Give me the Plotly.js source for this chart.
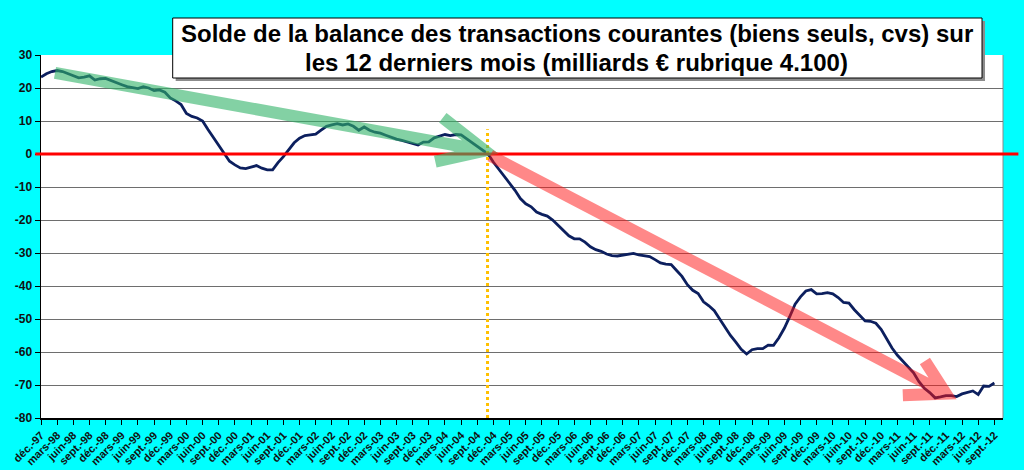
<!DOCTYPE html>
<html>
<head>
<meta charset="utf-8">
<script src="https://cdn.plot.ly/plotly-3.0.1.min.js"></script>
<style>
  body { margin: 0; background: #00ffff; }
  #chart { width: 1024px; height: 470px; }
</style>
</head>
<body>
<div id="chart"></div>
<script>
// solde glissant sur 12 mois, mensuel, de déc.-97 à sept.-12 (milliards €)
var soldeValues = [
  23.3, 24.3, 25.0, 25.3, 25.0, 24.4, 23.8, 23.1, 23.3, 23.7,
  22.4, 22.8, 22.9, 22.2, 21.7, 21.0, 20.4, 20.0, 19.8, 20.4,
  20.0, 19.2, 19.4, 18.7, 17.0, 16.1, 15.0, 12.3, 11.4, 10.9,
  10.0, 7.4, 5.0, 3.0, 0.2, -2.2, -3.3, -4.2, -4.4, -3.9,
  -3.5, -4.3, -4.8, -4.8, -2.6, -0.8, 1.2, 3.4, 4.8, 5.6,
  5.8, 6.0, 7.2, 8.4, 8.8, 9.2, 8.8, 9.1, 8.4, 7.2,
  8.2, 7.2, 6.6, 6.3, 5.7, 5.0, 4.5, 4.1, 3.6, 3.2,
  2.7, 3.6, 3.7, 4.9, 5.4, 5.9, 5.6, 5.9, 5.8, 4.6,
  3.4, 2.2, 1.0, 0.0, -2.5, -4.6, -6.8, -8.6, -11.0, -13.5,
  -15.1, -16.0, -17.6, -18.3, -18.8, -20.0, -21.6, -23.4, -24.8, -25.7,
  -25.7, -26.7, -28.1, -29.0, -29.5, -30.3, -30.8, -30.9, -30.6, -30.5,
  -30.1, -30.6, -30.8, -31.1, -32.0, -33.0, -33.4, -33.5, -35.3, -37.1,
  -39.6, -41.3, -42.3, -44.8, -46.0, -47.5, -50.0, -52.5, -55.0, -57.0,
  -59.2, -60.6, -59.3, -59.0, -59.0, -57.9, -58.0, -55.7, -52.8, -49.3,
  -45.5, -43.3, -41.5, -41.1, -42.4, -42.3, -42.0, -42.4, -43.5, -45.0,
  -45.2, -47.2, -48.8, -50.6, -50.7, -51.3, -53.2, -55.9, -58.8, -61.0,
  -62.8, -64.4, -66.3, -69.0, -71.0, -72.3, -73.9, -73.6, -73.2, -73.2,
  -73.5, -72.7, -72.3, -71.8, -72.9, -70.3, -70.4, -69.4
];

var tickLabels = [
  'déc.-97', 'mars-98', 'juin-98', 'sept.-98', 'déc.-98', 'mars-99', 'juin-99', 'sept.-99',
  'déc.-99', 'mars-00', 'juin-00', 'sept.-00', 'déc.-00', 'mars-01', 'juin-01', 'sept.-01',
  'déc.-01', 'mars-02', 'juin-02', 'sept.-02', 'déc.-02', 'mars-03', 'juin-03', 'sept.-03',
  'déc.-03', 'mars-04', 'juin-04', 'sept.-04', 'déc.-04', 'mars-05', 'juin-05', 'sept.-05',
  'déc.-05', 'mars-06', 'juin-06', 'sept.-06', 'déc.-06', 'mars-07', 'juin-07', 'sept.-07',
  'déc.-07', 'mars-08', 'juin-08', 'sept.-08', 'déc.-08', 'mars-09', 'juin-09', 'sept.-09',
  'déc.-09', 'mars-10', 'juin-10', 'sept.-10', 'déc.-10', 'mars-11', 'juin-11', 'sept.-11',
  'déc.-11', 'mars-12', 'juin-12', 'sept.-12'
];

var yTickValues = [30, 20, 10, 0, -10, -20, -30, -40, -50, -60, -70, -80];
var yTickLabels = ['30', '20', '10', '0', '-10', '-20', '-30', '-40', '-50', '-60', '-70', '-80'];

var titleLines = [
  'Solde de la balance des transactions courantes (biens seuls, cvs) sur',
  'les 12 derniers mois (milliards € rubrique 4.100)'
];

// mois numérotés depuis déc.-97, une étiquette par trimestre
var monthIndex = soldeValues.map(function (v, i) { return i; });
var tickPositions = tickLabels.map(function (t, i) { return i * 3; });

var fontFamily = 'Liberation Sans, Arial, sans-serif';

var trace = {
  x: monthIndex,
  y: soldeValues,
  type: 'scatter',
  mode: 'lines',
  line: {color: '#0c1f5e', width: 2.8},
  hoverinfo: 'skip'
};

var layout = {
  width: 1024,
  height: 470,
  margin: {l: 41, r: 21, t: 55, b: 52, pad: 0},
  paper_bgcolor: '#00ffff',
  plot_bgcolor: '#ffffff',
  showlegend: false,
  xaxis: {
    range: [0, 178.6],
    tickvals: tickPositions,
    ticktext: tickLabels,
    tickangle: -45,
    ticks: 'outside',
    ticklen: 5,
    tickcolor: '#000',
    tickfont: {family: fontFamily, size: 11, color: '#111', weight: 'bold'},
    showgrid: false,
    zeroline: false,
    showline: true,
    linecolor: '#000',
    linewidth: 1.5
  },
  yaxis: {
    range: [-80, 30],
    tickvals: yTickValues,
    ticktext: yTickLabels,
    ticks: 'outside',
    ticklen: 5,
    tickcolor: '#000',
    tickfont: {family: fontFamily, size: 12, color: '#111', weight: 'bold'},
    showgrid: true,
    gridcolor: '#6e6e6e',
    gridwidth: 1,
    zeroline: false,
    showline: true,
    linecolor: '#000',
    linewidth: 1.5
  },
  shapes: [
    // bord droit du cadre
    {type: 'line', xref: 'paper', yref: 'paper', x0: 1, x1: 1, y0: 0, y1: 1,
     line: {color: '#8a8a8a', width: 1}, layer: 'below'},
    // repère vertical pointillé
    {type: 'line', xref: 'x', yref: 'y', x0: 82.9, x1: 82.9, y0: -80, y1: 7.5,
     line: {color: '#ffc000', width: 3, dash: 'dot'}},
    // ligne du zéro
    {type: 'line', xref: 'paper', yref: 'y', x0: -0.006, x1: 1.016, y0: 0, y1: 0,
     line: {color: '#ff0000', width: 3}},
    // flèche verte
    {type: 'path', xref: 'x', yref: 'y',
     path: 'M 2.6 24.6 L 82.4 1.0 M 74.6 11.0 L 82.4 1.0 L 73.2 -2.3',
     line: {color: 'rgb(50,180,105)', width: 12}, opacity: 0.6},
    // flèche rouge
    {type: 'path', xref: 'x', yref: 'y',
     path: 'M 83.4 -0.5 L 168.0 -72.6 M 164.1 -62.7 L 168.0 -72.6 L 160.0 -73.1',
     line: {color: 'rgb(255,20,20)', width: 12}, opacity: 0.5},
    // cadre du titre avec ombre
    {type: 'rect', xref: 'paper', yref: 'paper', x0: 0.1400, x1: 0.9813, y0: 0.9284, y1: 1.0937,
     fillcolor: '#8c8c8c', line: {width: 0}},
    {type: 'rect', xref: 'paper', yref: 'paper', x0: 0.1369, x1: 0.9782, y0: 0.9366, y1: 1.1019,
     fillcolor: '#ffffff', line: {color: '#000', width: 1}}
  ],
  annotations: [
    {xref: 'paper', yref: 'paper', x: 0.5567, y: 1.0592, xanchor: 'center', yanchor: 'middle',
     text: '<b>' + titleLines[0] + '</b>', showarrow: false,
     font: {family: fontFamily, size: 24, color: '#000'}},
    {xref: 'paper', yref: 'paper', x: 0.5567, y: 0.9807, xanchor: 'center', yanchor: 'middle',
     text: '<b>' + titleLines[1] + '</b>', showarrow: false,
     font: {family: fontFamily, size: 24, color: '#000'}}
  ]
};

Plotly.newPlot('chart', [trace], layout, {staticPlot: true});
</script>
</body>
</html>
